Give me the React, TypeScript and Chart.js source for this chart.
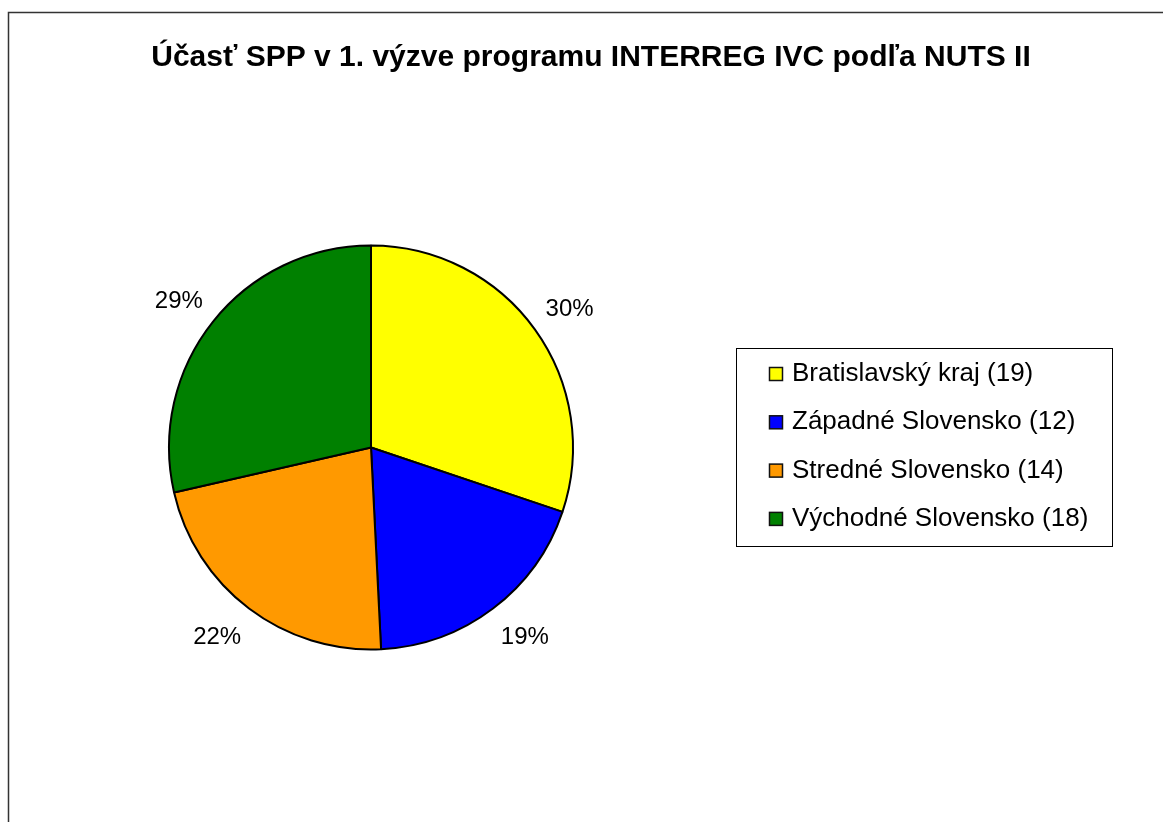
import React, { useEffect, useRef } from "react";
import { Chart, registerables } from "chart.js";

Chart.register(...registerables);

const TITLE = "Účasť SPP v 1. výzve programu INTERREG IVC podľa NUTS II";
const categories = ["Bratislavský kraj", "Západné Slovensko", "Stredné Slovensko", "Východné Slovensko"];
const counts = [19, 12, 14, 18];
const colors = ["#ffff00", "#0000ff", "#ff9900", "#008000"];

const FONT = "'Liberation Sans', Arial, sans-serif";

const framePlugin = {
  id: "frame",
  beforeDraw(chart: any) {
    const ctx = chart.ctx;
    ctx.save();
    ctx.fillStyle = "#ffffff";
    ctx.fillRect(0, 0, chart.width, chart.height);
    ctx.strokeStyle = "#333333";
    ctx.lineWidth = 1.5;
    ctx.beginPath();
    ctx.moveTo(8.5, chart.height + 10);
    ctx.lineTo(8.5, 12.5);
    ctx.lineTo(chart.width + 10, 12.5);
    ctx.stroke();
    ctx.fillStyle = "#000000";
    ctx.font = `bold 30px ${FONT}`;
    ctx.textAlign = "center";
    ctx.textBaseline = "alphabetic";
    ctx.fillText(TITLE, 591, 66);
    ctx.restore();
  },
};

const labelsPlugin = {
  id: "pctLabels",
  afterDatasetsDraw(chart: any) {
    const ctx = chart.ctx;
    const meta = chart.getDatasetMeta(0);
    const data = chart.data.datasets[0].data as number[];
    const total = data.reduce((a, b) => a + b, 0);
    ctx.save();
    ctx.fillStyle = "#000000";
    ctx.font = `24px ${FONT}`;
    ctx.textAlign = "center";
    ctx.textBaseline = "alphabetic";
    meta.data.forEach((arc: any, i: number) => {
      const p = arc.getProps(["x", "y", "startAngle", "endAngle", "outerRadius"], true);
      const mid = (p.startAngle + p.endAngle) / 2;
      const pct = Math.round((data[i] / total) * 100) + "%";
      const w = ctx.measureText(pct).width;
      const R = p.outerRadius + 13;
      const c = Math.cos(mid), s = Math.sin(mid);
      const x = p.x + R * c + Math.sign(c) * w / 2;
      const y = p.y + R * s + (s > 0 ? 16.5 : -14);
      ctx.fillText(pct, x, y + 8.5);
    });
    ctx.restore();
  },
};

const legendPlugin = {
  id: "boxLegend",
  afterDraw(chart: any) {
    const ctx = chart.ctx;
    ctx.save();
    const bx = 736.5, by = 348.5, bw = 376, bh = 198;
    ctx.strokeStyle = "#000000";
    ctx.lineWidth = 1;
    ctx.strokeRect(bx, by, bw, bh);
    ctx.font = `26px ${FONT}`;
    ctx.textAlign = "left";
    ctx.textBaseline = "alphabetic";
    categories.forEach((c, i) => {
      const base = 381 + i * 48.3;
      const cy = base - 7;
      ctx.fillStyle = colors[i];
      ctx.fillRect(769.5, cy - 6.5, 13, 13);
      ctx.strokeStyle = "#111111";
      ctx.lineWidth = 1.5;
      ctx.strokeRect(769.5, cy - 6.5, 13, 13);
      ctx.fillStyle = "#000000";
      ctx.fillText(`${c} (${counts[i]})`, 792, base);
    });
    ctx.restore();
  },
};

export default function App() {
  const ref = useRef<HTMLCanvasElement>(null);
  useEffect(() => {
    if (!ref.current) return;
    const chart = new Chart(ref.current, {
      type: "pie",
      data: {
        labels: categories,
        datasets: [
          {
            data: counts,
            backgroundColor: colors,
            borderColor: "#000000",
            borderWidth: 2,
          },
        ],
      },
      options: {
        responsive: false,
        animation: false,
        events: [],
        layout: { padding: { left: 168, right: 589, top: 244, bottom: 171 } },
        plugins: {
          legend: { display: false },
          title: { display: false },
          tooltip: { enabled: false },
        },
      },
      plugins: [framePlugin, labelsPlugin, legendPlugin],
    });
    return () => chart.destroy();
  }, []);
  return (
    <div style={{ position: "fixed", left: 0, top: 0, width: 1163, height: 822, background: "#fff" }}>
      <canvas ref={ref} width={1163} height={822} style={{ display: "block" }} />
    </div>
  );
}
